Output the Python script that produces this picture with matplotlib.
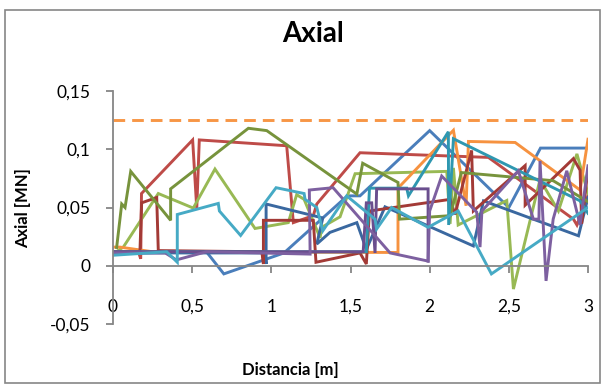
import matplotlib
matplotlib.use("Agg")
import matplotlib.pyplot as plt
from matplotlib.patches import Rectangle

plt.rcParams['font.family'] = ['Lato', 'DejaVu Sans']

# Axial force envelopes along the member (distance [m], axial [MN])
blue_x = [0, 0.30, 0.59, 0.70, 1.08, 1.48, 1.56, 2.00, 2.50, 2.70, 3.00]
blue_y = [0.011, 0.012, 0.012, -0.007, 0.011, 0.060, 0.060, 0.116, 0.050, 0.101, 0.101]

red_x = [0, 0.16, 0.175, 0.18, 0.503, 0.529, 0.545, 1.097, 1.139, 1.265, 1.287, 1.56, 2.371, 2.908, 2.93, 3.0]
red_y = [0.012, 0.012, 0.006, 0.062, 0.108, 0.049, 0.108, 0.103, 0.037, 0.043, 0.053, 0.097, 0.093, 0.040, 0.035, 0.060]

green_x = [0.02, 0.065, 0.286, 0.507, 0.644, 0.897, 1.107, 1.16, 1.207, 1.308, 1.318, 1.434, 1.529,
           2.108, 2.129, 2.15, 2.18, 2.487, 2.529, 2.697, 2.813, 2.93, 3.0]
green_y = [0.012, 0.016, 0.062, 0.0495, 0.083, 0.032, 0.037, 0.061, 0.057, 0.024, 0.033, 0.042, 0.079,
           0.081, 0.036, 0.084, 0.035, 0.056, -0.020, 0.074, 0.047, 0.096, 0.062]

purple_x = [0, 0.33, 0.40, 0.59, 1.245, 1.24, 1.39, 1.75, 1.99, 2.0, 2.076, 2.297, 2.318, 2.33,
            2.56, 2.655, 2.69, 2.697, 2.735, 2.78, 2.866, 2.95, 3.0]
purple_y = [0.011, 0.011, 0.005, 0.012, 0.010, 0.065, 0.067, 0.011, 0.004, 0.047, 0.077, 0.046, 0.016, 0.047,
            0.0815, 0.040, 0.040, 0.090, -0.013, 0.040, 0.0815, 0.035, 0.0858]

cyan_x = [0, 0.339, 0.406, 0.406, 0.665, 0.672, 0.806, 1.03, 1.207, 1.213, 1.287, 1.325, 1.476,
          1.655, 1.665, 1.76, 1.99, 2.18, 2.39, 3.0]
cyan_y = [0.009, 0.012, 0.003, 0.044, 0.0535, 0.047, 0.026, 0.067, 0.062, 0.057, 0.050, 0.030, 0.060,
          0.040, 0.0315, 0.050, 0.033, 0.047, -0.007, 0.050]

orange_x = [0, 0.044, 0.25, 1.80, 1.80, 2.15, 2.23, 2.245, 2.54, 2.95, 3.0]
orange_y = [0.016, 0.016, 0.012, 0.0114, 0.0666, 0.1163, 0.0515, 0.1067, 0.1058, 0.065, 0.1086]

dblue_x = [0, 0.96, 0.967, 0.967, 1.325, 1.287, 1.37, 1.54, 1.60, 1.718, 2.276, 2.34, 2.94, 3.0]
dblue_y = [0.011, 0.011, 0.0015, 0.053, 0.041, 0.0186, 0.0286, 0.037, 0.014, 0.0506, 0.017, 0.0557, 0.0257, 0.0586]

dred_x = [0, 0.17, 0.181, 0.276, 0.286, 0.94, 0.95, 0.95, 1.265, 1.282, 1.56, 1.60, 1.62, 2.13, 2.16,
          2.265, 2.276, 2.603, 2.603, 2.908, 2.95, 2.96, 3.0]
dred_y = [0.012, 0.012, 0.054, 0.0586, 0.013, 0.012, 0.0015, 0.039, 0.039, 0.003, 0.011, 0.0015, 0.047, 0.057, 0.044,
          0.099, 0.047, 0.086, 0.052, 0.092, 0.082, 0.036, 0.083]

olive_x = [0.023, 0.055, 0.076, 0.112, 0.364, 0.364, 0.855, 0.971, 1.54, 1.577, 1.80, 1.81, 2.13, 2.2, 2.78, 3.0]
olive_y = [0.0157, 0.053, 0.050, 0.081, 0.039, 0.066, 0.118, 0.116, 0.0615, 0.088, 0.0715, 0.040, 0.043, 0.080, 0.073, 0.055]

dpurple_x = [0, 1.58, 1.60, 1.634, 1.655, 1.665, 1.99, 1.99]
dpurple_y = [0.012, 0.012, 0.054, 0.054, 0.011, 0.066, 0.066, 0.004]

teal_x = [0, 1.60, 1.62, 1.855, 1.866, 2.118, 2.12, 2.15, 2.95, 3.0]
teal_y = [0.012, 0.012, 0.0666, 0.0666, 0.060, 0.115, 0.035, 0.109, 0.0557, 0.045]

limit_x = [0, 3]
limit_y = [0.125, 0.125]

series = [
    (blue_x, blue_y, '#4A7EBB'),
    (red_x, red_y, '#BE4B48'),
    (green_x, green_y, '#98B954'),
    (orange_x, orange_y, '#F69240'),
    (dblue_x, dblue_y, '#3A68A0'),
    (dred_x, dred_y, '#A33A36'),
    (olive_x, olive_y, '#77933C'),
    (teal_x, teal_y, '#2E97B0'),
    (dpurple_x, dpurple_y, '#6A4E8E'),
    (purple_x, purple_y, '#7D60A0'),
    (cyan_x, cyan_y, '#46AAC5'),
]

fig = plt.figure(figsize=(6.04, 3.88), dpi=100)
ax = fig.add_axes([113 / 604, 1 - 324 / 388, 475 / 604, 233 / 388])

for xs, ys, c in series:
    ax.plot(xs, ys, color=c, lw=2.1, solid_joinstyle='miter')
ax.plot(limit_x, limit_y, color='#F79646', lw=2.1, dashes=(4, 2.4))

ax.set_xlim(0, 3)
ax.set_ylim(-0.05, 0.15)
ax.set_xticks([0, 0.5, 1, 1.5, 2, 2.5, 3])
ax.set_xticklabels(['0', '0,5', '1', '1,5', '2', '2,5', '3'])
ax.set_yticks([-0.05, 0, 0.05, 0.1, 0.15])
ax.set_yticklabels(['-0,05', '0', '0,05', '0,1', '0,15'])

axis_gray = '#868686'
for s in ['top', 'right']:
    ax.spines[s].set_visible(False)
ax.spines['bottom'].set_position(('data', 0))
ax.spines['bottom'].set_color(axis_gray)
ax.spines['left'].set_color(axis_gray)
ax.spines['bottom'].set_linewidth(1.3)
ax.spines['left'].set_linewidth(1.3)
ax.tick_params(axis='x', direction='out', length=5, width=1.3, color=axis_gray, pad=19, labelsize=12.5)
ax.tick_params(axis='y', direction='out', length=5, width=1.3, color=axis_gray, pad=11, labelsize=12.5)
ax.set_facecolor('none')

fig.text(313 / 604, 1 - 34 / 388, 'Axial', ha='center', va='center', fontsize=20, fontweight='bold')
fig.text(290 / 604, 1 - 370 / 388, 'Distancia [m]', ha='center', va='center', fontsize=12, fontweight='bold')
fig.text(23 / 604, 1 - 208 / 388, 'Axial [MN]', ha='center', va='center', fontsize=12, fontweight='bold', rotation=90)

fig.patches.append(Rectangle((5 / 604, 1 - 383 / 388), 595 / 604, 373 / 388, transform=fig.transFigure,
                             fill=False, edgecolor=axis_gray, lw=1.2))

fig.savefig('out.png', dpi=100)
